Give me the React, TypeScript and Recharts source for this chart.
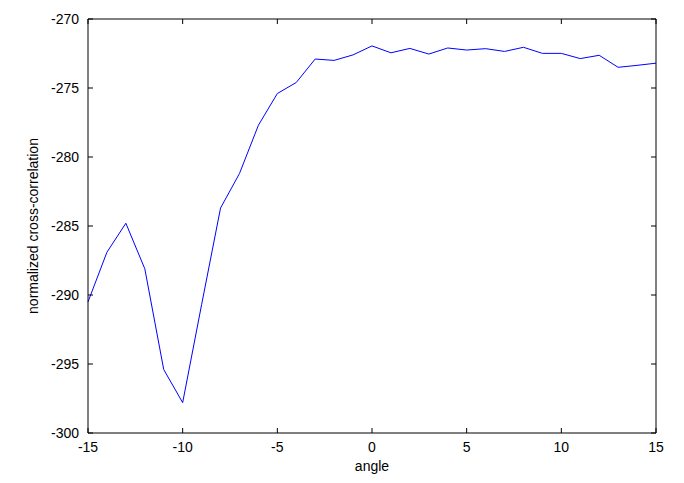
import React from 'react';
import { LineChart, Line, XAxis, YAxis } from 'recharts';

const angles = [-15, -14, -13, -12, -11, -10, -9, -8, -7, -6, -5, -4, -3, -2, -1, 0, 1, 2, 3, 4, 5, 6, 7, 8, 9, 10, 11, 12, 13, 14, 15];
const correlation = [
  -290.5, -286.9, -284.8, -288.1, -295.4, -297.8, -290.7, -283.7, -281.2, -277.7, -275.4,
  -274.6, -272.9, -273.0, -272.6, -271.95, -272.45, -272.13, -272.54, -272.1, -272.25,
  -272.15, -272.35, -272.05, -272.49, -272.49, -272.87, -272.63, -273.5, -273.36, -273.2,
];
const xTicks = [-15, -10, -5, 0, 5, 10, 15];
const yTicks = [-300, -295, -290, -285, -280, -275, -270];

const data = angles.map((a, i) => ({ angle: a, value: correlation[i] }));

const font = "'Liberation Sans', Arial, sans-serif";
const axisLine = { stroke: '#000', strokeWidth: 1 };
const TL = 5;
const XM = 9;
const YM = 9;

const BottomTick = (p: any) => {
  const x = Number(p.x);
  const y = Number(p.y);
  const ay = y - XM;
  return (
    <g>
      <path d={`M${x},${ay}L${x},${ay - TL}`} stroke="#000" strokeWidth={1} fill="none" />
      <text x={x} y={y} dy="0.71em" textAnchor="middle" fontSize={14} fill="#000" fontFamily={font}>
        {p.payload.value}
      </text>
    </g>
  );
};

const LeftTick = (p: any) => {
  const x = Number(p.x);
  const y = Number(p.y);
  const ax = x + YM;
  return (
    <g>
      <path d={`M${ax},${y}L${ax + TL},${y}`} stroke="#000" strokeWidth={1} fill="none" />
      <text x={x} y={y} dy="0.355em" textAnchor="end" fontSize={14} fill="#000" fontFamily={font}>
        {p.payload.value}
      </text>
    </g>
  );
};

const TopTick = (p: any) => {
  const x = Number(p.x);
  const y = Number(p.y);
  return <path d={`M${x},${y}L${x},${y + TL}`} stroke="#000" strokeWidth={1} fill="none" />;
};

const RightTick = (p: any) => {
  const x = Number(p.x);
  const y = Number(p.y);
  return <path d={`M${x},${y}L${x - TL},${y}`} stroke="#000" strokeWidth={1} fill="none" />;
};

const YLabel = (props: any) => {
  const vb = props.viewBox || { x: 0, y: 19, height: 414 };
  const cx = vb.x + 33;
  const cy = vb.y + vb.height / 2;
  return (
    <text
      x={cx}
      y={cy}
      transform={`rotate(-90 ${cx} ${cy})`}
      textAnchor="middle"
      dominantBaseline="central"
      style={{ fontSize: 14, fill: '#000', fontFamily: font }}
    >
      normalized cross-correlation
    </text>
  );
};

export default function App() {
  return (
    <div style={{ position: 'absolute', left: 0, top: 0, width: 684, height: 483, background: '#fff' }}>
      <LineChart width={684} height={483} data={data} margin={{ top: 18, right: 27, left: 0, bottom: 0 }}>
        <XAxis xAxisId="b" dataKey="angle" type="number" domain={[-15, 15]} ticks={xTicks} height={50}
          tickSize={0} tickMargin={XM} tick={BottomTick} axisLine={axisLine} tickLine={false} interval={0}
          label={{ value: 'angle', position: 'insideBottom', offset: 12, style: { fontSize: 14, fill: '#000', fontFamily: font } }} />
        <XAxis xAxisId="t" orientation="top" dataKey="angle" type="number" domain={[-15, 15]} ticks={xTicks}
          height={1} tickSize={0} tickMargin={0} tick={TopTick} axisLine={axisLine} tickLine={false} interval={0} />
        <YAxis yAxisId="l" dataKey="value" type="number" domain={[-300, -270]} ticks={yTicks} width={88} tickSize={0}
          tickMargin={YM} tick={LeftTick} axisLine={axisLine} tickLine={false} interval={0}
          label={{ content: YLabel }} />
        <YAxis yAxisId="r" dataKey="value" orientation="right" type="number" domain={[-300, -270]} ticks={yTicks} width={1}
          tickSize={0} tickMargin={0} tick={RightTick} axisLine={axisLine} tickLine={false} interval={0} />
        <Line xAxisId="b" yAxisId="l" type="linear" dataKey="value" stroke="#0000ff" strokeWidth={1} dot={false} isAnimationActive={false} />
      </LineChart>
    </div>
  );
}
